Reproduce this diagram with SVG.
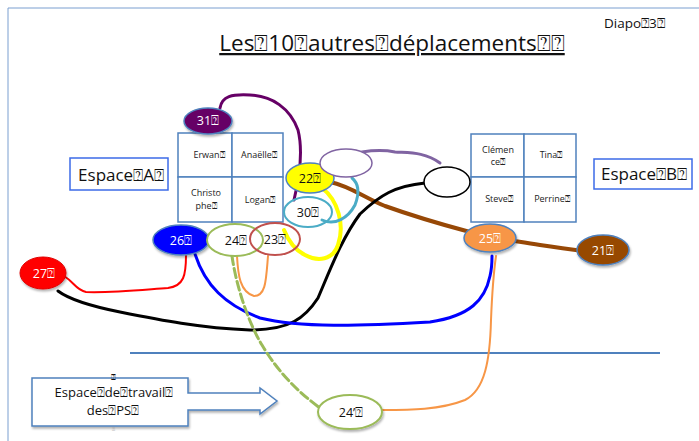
<svg xmlns="http://www.w3.org/2000/svg" width="699" height="441" viewBox="0 0 699 441">
<defs>
<filter id="sh" x="-20%" y="-20%" width="150%" height="160%">
<feDropShadow dx="1" dy="2" stdDeviation="1.2" flood-color="#000" flood-opacity="0.3"/>
</filter>
<style>
text{font-family:"Open Sans","Liberation Sans",sans-serif;}
.cell{fill:#fff;stroke:#4f81bd;stroke-width:1.5;}
.ct{font-size:9px;fill:#222;text-anchor:middle;}
.nt{font-size:12.5px;text-anchor:middle;}
.lab{fill:#fff;stroke:#3c6be8;stroke-width:1.5;}
.c{fill:none;stroke-linecap:round;stroke-linejoin:round;}
</style>
</defs>
<rect width="699" height="441" fill="#fff"/>
<path d="M8 441 V8 H699" fill="none" stroke="#7b9fd0" stroke-width="1"/>
<text x="392" y="51" font-size="22.5" text-anchor="middle" fill="#111" text-decoration="underline">Les⍰10⍰autres⍰déplacements⍰⍰</text>
<text x="604" y="28" font-size="13.5" fill="#111">Diapo⍰3⍰</text>
<line x1="130" y1="353" x2="660" y2="353" stroke="#4f81bd" stroke-width="2"/>

<g id="espaceA"><rect class="lab" x="70" y="158" width="98" height="32"/><text x="121" y="181" font-size="17" text-anchor="middle" fill="#111">Espace⍰A⍰</text></g>
<g id="espaceB"><rect class="lab" x="594" y="159" width="98" height="30"/><text x="644" y="180" font-size="17" text-anchor="middle" fill="#111">Espace⍰B⍰</text></g>

<g id="gridA">
<rect class="cell" x="178" y="133" width="54" height="44"/>
<rect class="cell" x="232" y="133" width="51" height="44"/>
<rect class="cell" x="178" y="177" width="54" height="45"/>
<rect class="cell" x="232" y="177" width="51" height="45"/>
<text class="ct" x="209" y="158">Erwan⍰</text>
<text class="ct" x="259" y="158">Anaëlle⍰</text>
<text class="ct" x="206" y="196"><tspan x="206">Christo</tspan><tspan x="206" dy="12.5">phe⍰</tspan></text>
<text class="ct" x="260" y="203">Logan⍰</text>
</g>
<g id="gridB">
<rect class="cell" x="471" y="134" width="53" height="43"/>
<rect class="cell" x="524" y="134" width="52" height="43"/>
<rect class="cell" x="471" y="177" width="53" height="45"/>
<rect class="cell" x="524" y="177" width="52" height="45"/>
<text class="ct" x="498" y="153"><tspan x="498">Clémen</tspan><tspan x="498" dy="12">ce⍰</tspan></text>
<text class="ct" x="551" y="158">Tina⍰</text>
<text class="ct" x="499" y="202">Steve⍰</text>
<text class="ct" x="552" y="202">Perrine⍰</text>
</g>

<g id="connectors">
<path class="c" d="M220 108 C222 96 232 94 250 95 C272 96 290 108 298 130 C303 150 300 175 294 200" stroke="#660066" stroke-width="3"/>
<path class="c" d="M362 152 C375 150 385 150 395 152 C410 153 425 152 440 163" stroke="#8064a2" stroke-width="3"/>
<path class="c" d="M330 182 C350 186 365 198 385 206 C410 215 440 224 470 232 C490 238 510 240 540 245 C560 248 575 250 590 252" stroke="#974806" stroke-width="4"/>
<path class="c" d="M58 291 C70 300 90 306 120 312 C160 320 200 328 250 330 C290 330 305 318 318 298 C330 270 342 238 360 214 C380 195 395 186 425 183" stroke="#000" stroke-width="3"/>
<path class="c" d="M322 188 C338 200 345 225 338 245 C333 260 318 262 305 255 C295 250 288 240 284 230" stroke="#ffff00" stroke-width="4"/>
<path class="c" d="M322 220 C335 226 348 218 355 205 C360 192 358 183 352 178" stroke="#4bacc6" stroke-width="3"/>
<path class="c" d="M237 256 C238 275 240 292 254 296 C266 296 266 280 268 256" stroke="#f79646" stroke-width="2"/>
<path class="c" d="M195 254 C205 285 225 305 260 318 C300 328 360 326 430 322 C470 316 485 300 490 276 C492 268 492 260 492 256" stroke="#0000ff" stroke-width="3"/>
<path class="c" d="M186 255 C186 275 184 286 168 288 C140 290 110 293 86 292 C76 290 74 282 64 276" stroke="#ff0000" stroke-width="2"/>
<path class="c" d="M232 256 C236 285 248 322 262 345 C278 372 298 392 320 408" stroke="#9bbb59" stroke-width="3" stroke-dasharray="9 4"/>
<path class="c" d="M382 410 C410 410 440 410 465 400 C485 390 490 360 491 320 C492 295 494 270 496 256" stroke="#f79646" stroke-width="2"/>
</g>

<g id="n31"><ellipse cx="208" cy="121" rx="24" ry="13" fill="#660066" stroke="#4f81bd" stroke-width="1.5" filter="url(#sh)"/><text class="nt" x="208" y="125" fill="#fff">31⍰</text></g>
<g id="n26"><ellipse cx="181" cy="240" rx="28" ry="15" fill="#0000ff" stroke="#4f81bd" stroke-width="1.5" filter="url(#sh)"/><text class="nt" x="181" y="245" fill="#fff">26⍰</text></g>
<g id="n24"><ellipse cx="235" cy="240" rx="28" ry="16" fill="#fff" stroke="#9bbb59" stroke-width="2"/><text class="nt" x="236" y="245" fill="#111">24⍰</text></g>
<g id="n23"><ellipse cx="275" cy="239" rx="25" ry="16" fill="none" stroke="#c0504d" stroke-width="2"/><text class="nt" x="275" y="244" fill="#111">23⍰</text></g>
<g id="n22"><ellipse cx="310" cy="178" rx="24" ry="15" fill="#ffff00" stroke="#4f81bd" stroke-width="1.5"/><text class="nt" x="310" y="183" fill="#111">22⍰</text></g>
<g id="n30"><ellipse cx="308" cy="212" rx="24" ry="15" fill="none" stroke="#4bacc6" stroke-width="2"/><text class="nt" x="308" y="217" fill="#111">30⍰</text></g>
<g id="npurple"><ellipse cx="346" cy="163" rx="26" ry="14" fill="#fff" stroke="#8064a2" stroke-width="1.5"/></g>
<g id="nblack"><ellipse cx="447" cy="182" rx="23" ry="15" fill="#fff" stroke="#000" stroke-width="1.5"/></g>
<g id="n25"><ellipse cx="490" cy="238" rx="26" ry="14" fill="#f79646" stroke="#4f81bd" stroke-width="1.5" filter="url(#sh)"/><text class="nt" x="490" y="243" fill="#fff">25⍰</text></g>
<g id="n21"><ellipse cx="603" cy="250" rx="26" ry="15" fill="#974806" stroke="#4f81bd" stroke-width="1.5" filter="url(#sh)"/><text class="nt" x="603" y="255" fill="#fff">21⍰</text></g>
<g id="n27"><ellipse cx="43" cy="273" rx="23" ry="16" fill="#ff0000" stroke="#e00000" stroke-width="1" filter="url(#sh)"/><text class="nt" x="44" y="278" fill="#fff">27⍰</text></g>
<g id="n24p"><ellipse cx="350" cy="412" rx="32" ry="17" fill="#fff" stroke="#9bbb59" stroke-width="2" filter="url(#sh)"/><text class="nt" x="351" y="417" fill="#111">24’⍰</text></g>

<g id="espacePS">
<path d="M32 378 H188 V393 H260 V388 L277 401 L260 414 V410 H188 V426 H32 Z" fill="#fff" stroke="#4f81bd" stroke-width="1.5" filter="url(#sh)"/>
<text x="113" y="380" font-size="8" text-anchor="middle" fill="#111">⍰</text>
<text x="114" y="397" font-size="13" text-anchor="middle" fill="#111">Espace⍰de⍰travail⍰</text>
<text x="113" y="415" font-size="13" text-anchor="middle" fill="#111">des⍰PS⍰</text>
<text x="113" y="431" font-size="5" text-anchor="middle" fill="#999">⍰</text>
</g>
</svg>
